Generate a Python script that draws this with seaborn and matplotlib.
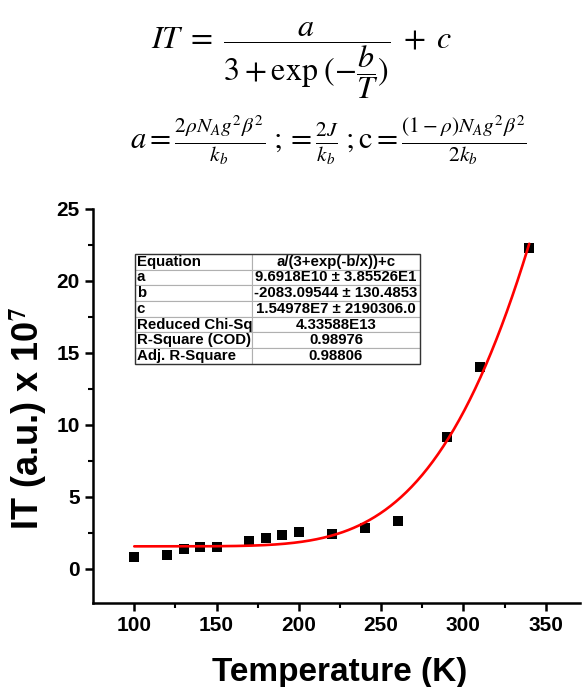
import numpy as np
import pandas as pd
import seaborn as sns
from matplotlib import pyplot as plt
from matplotlib.patches import Rectangle

# measured data (IT in units of 1e7)
temperature = [100, 120, 130, 140, 150, 170, 180, 190, 200, 220, 240, 260, 290, 310, 340]
it_values = [0.79, 0.97, 1.37, 1.53, 1.53, 1.93, 2.14, 2.32, 2.53, 2.44, 2.79, 3.32, 9.15, 14.0, 22.26]

# fit parameters from the table
fit_a = 9.6918e10
fit_b = -2083.09544
fit_c = 1.54978e7

table_labels = ["Equation", "a", "b", "c", "Reduced Chi-Sq", "R-Square (COD)", "Adj. R-Square"]
table_values = ["a/(3+exp(-b/x))+c", "9.6918E10 \u00b1 3.85526E1", "-2083.09544 \u00b1 130.4853",
                "1.54978E7 \u00b1 2190306.0", "4.33588E13", "0.98976", "0.98806"]

x_ticks = [100, 150, 200, 250, 300, 350]
y_ticks = [0, 5, 10, 15, 20, 25]

sns.set_style("ticks")
plt.rcParams["font.family"] = ["Liberation Sans", "DejaVu Sans"]
plt.rcParams["mathtext.fontset"] = "stix"
for key in ["text.color", "axes.labelcolor", "xtick.color", "ytick.color", "axes.edgecolor"]:
    plt.rcParams[key] = "black"

fig = plt.figure(figsize=(5.82, 6.87), dpi=100)
ax = fig.add_axes([0.160, 0.122, 0.837, 0.574])

fit_x = np.linspace(min(temperature), max(temperature), 300)
fit_df = pd.DataFrame({"T": fit_x, "IT": (fit_a / (3 + np.exp(-fit_b / fit_x)) + fit_c) / 1e7})
data = pd.DataFrame({"T": temperature, "IT": it_values})

sns.scatterplot(data=data, x="T", y="IT", marker="s", s=55, color="black",
                edgecolor="black", linewidth=0, ax=ax, zorder=3)
sns.lineplot(data=fit_df, x="T", y="IT", color="red", linewidth=1.9, ax=ax, zorder=4)

ax.set_xlim(75, 371)
ax.set_ylim(-2.4, 25)
ax.set_xticks(x_ticks)
ax.set_yticks(y_ticks)
ax.set_xticks([125, 175, 225, 275, 325], minor=True)
ax.set_yticks([2.5, 7.5, 12.5, 17.5, 22.5], minor=True)
ax.tick_params(which="major", length=6, width=1.8, direction="out", labelsize=15)
ax.tick_params(which="minor", length=3.5, width=1.5, direction="out")
for lbl in ax.get_xticklabels() + ax.get_yticklabels():
    lbl.set_fontweight("bold")

sns.despine(ax=ax)
ax.spines["left"].set_linewidth(1.8)
ax.spines["bottom"].set_linewidth(1.8)

ax.set_xlabel("Temperature (K)", fontsize=24, fontweight="bold")
ax.set_ylabel(r"IT (a.u.) x 10$^\mathbf{7}$", fontsize=26, fontweight="bold")
ax.xaxis.set_label_coords(0.507, -0.137)
ax.yaxis.set_label_coords(-0.090, 0.47)

# fit result table
tbl = ax.table(cellText=[[l, v] for l, v in zip(table_labels, table_values)],
               cellLoc="center", colWidths=[0.41, 0.59],
               bbox=[0.086, 0.607, 0.585, 0.279], zorder=5)
tbl.auto_set_font_size(False)
for (r, col), cell in tbl.get_celld().items():
    cell.set_edgecolor("#b0b0b0")
    cell.set_linewidth(0.8)
    cell.get_text().set_fontsize(10.8)
    cell.get_text().set_fontweight("bold")
    if col == 0:
        cell.get_text().set_horizontalalignment("left")
        cell.PAD = 0.015
ax.add_patch(Rectangle((0.086, 0.607), 0.585, 0.279, transform=ax.transAxes,
                       fill=False, edgecolor="#333333", linewidth=1.0, zorder=6))

# equations above the chart
fig.text(0.518, 0.912, r"$IT\;=\;\dfrac{a}{3+\mathrm{exp}\;(-\dfrac{b}{T})}\;+\;c$",
         fontsize=23, ha="center", va="center")
fig.text(0.565, 0.795,
         r"$a = \frac{2\rho N_A g^2 \beta^2}{k_b}\;;= \frac{2J}{k_b}\;;\mathrm{c} = \frac{(1-\rho)N_A g^2\beta^2}{2k_b}$",
         fontsize=22, ha="center", va="center")

plt.savefig("out.png", dpi=100)
